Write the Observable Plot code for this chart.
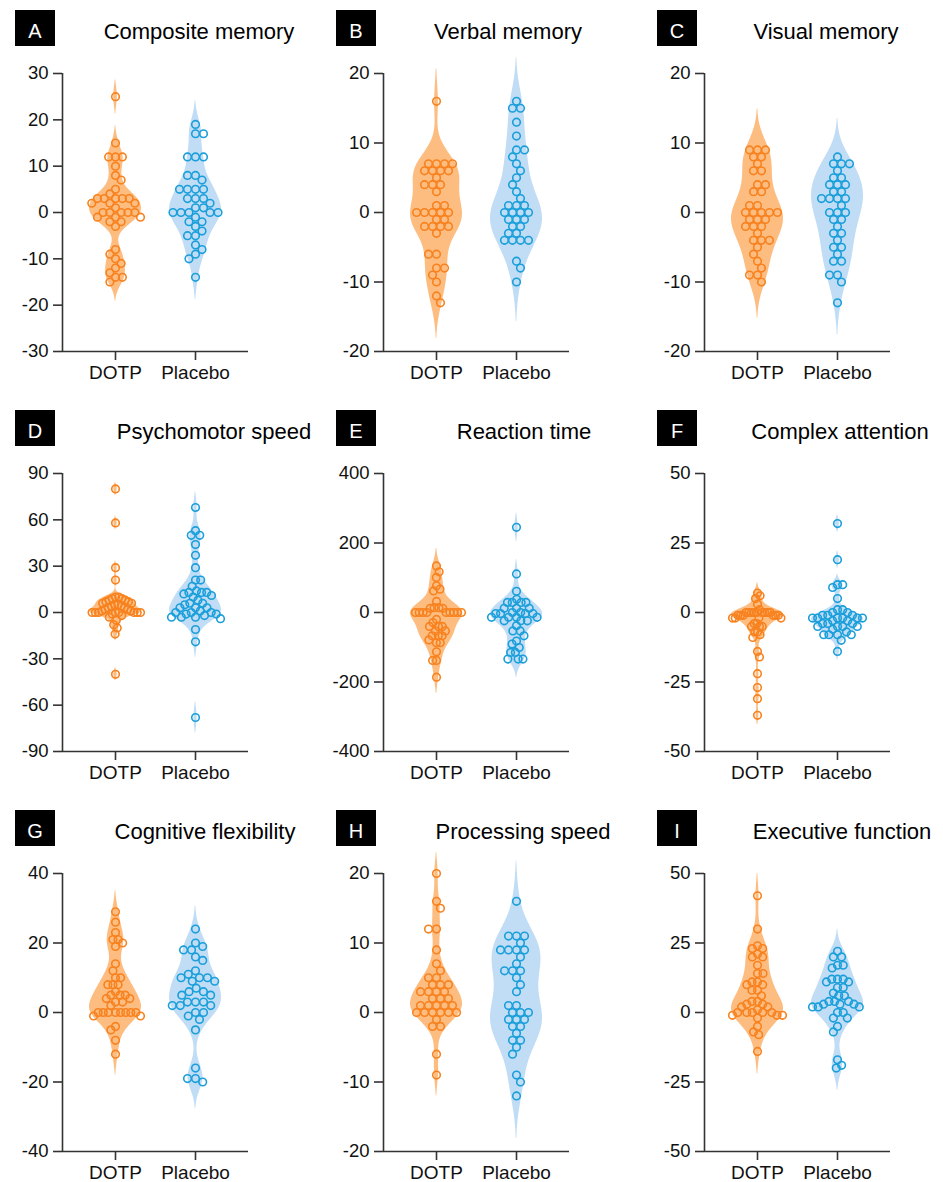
<!DOCTYPE html>
<html><head><meta charset="utf-8">
<script src="https://cdn.jsdelivr.net/npm/d3@7"></script>
<script src="https://cdn.jsdelivr.net/npm/@observablehq/plot@0.6"></script>
<style>
body{margin:0;background:#fff;font-family:"Liberation Sans",Arial,sans-serif;}
#root{position:relative;width:943px;height:1182px;overflow:hidden;background:#fff;}
.panel{position:absolute;width:320px;height:400px;}
.badge{position:absolute;left:15px;top:10px;width:40px;height:36px;background:#000;color:#fff;font-size:20px;line-height:42px;text-align:center;overflow:hidden;}
.title{position:absolute;top:19px;font-size:22px;line-height:26px;white-space:nowrap;transform:translateX(-50%);color:#000;}
.panel svg{position:absolute;left:0;top:0;overflow:visible;}
</style></head><body><div id="root"></div>
<script>
// ---- data ----
const groupNames = ["DOTP", "Placebo"];
const panelLetters = ["A","B","C","D","E","F","G","H","I"];
const panelTitles = ["Composite memory","Verbal memory","Visual memory","Psychomotor speed","Reaction time","Complex attention","Cognitive flexibility","Processing speed","Executive function"];

const ticksA = [-30,-20,-10,0,10,20,30];
const ticksB = [-20,-10,0,10,20];
const ticksC = [-20,-10,0,10,20];
const ticksD = [-90,-60,-30,0,30,60,90];
const ticksE = [-400,-200,0,200,400];
const ticksF = [-50,-25,0,25,50];
const ticksG = [-40,-20,0,20,40];
const ticksH = [-20,-10,0,10,20];
const ticksI = [-50,-25,0,25,50];

const compositeDOTP = [25,15,12,12,12,10,8,7,5,4,3,3,3,3,3,2,2,2,1,0,0,0,0,0,-1,-1,-1,-2,-2,-3,-8,-9,-10,-11,-12,-13,-14,-14,-15];
const compositePlacebo = [19,17,17,12,12,12,8,8,7,5,5,5,5,3,3,3,2,1,1,0,0,0,0,0,-1,-2,-2,-3,-4,-5,-5,-7,-8,-9,-10,-14];
const verbalDOTP = [16,7,7,7,7,6,6,6,6,5,4,4,4,3,1,1,0,0,0,0,0,-1,-1,-2,-2,-2,-2,-3,-6,-6,-8,-8,-9,-10,-12,-13];
const verbalPlacebo = [16,15,15,13,11,9,9,8,7,6,5,4,3,2,1,1,1,0,0,0,0,-1,-1,-1,-2,-2,-3,-3,-4,-4,-4,-4,-7,-8,-10];
const visualDOTP = [9,9,9,8,8,7,6,6,4,4,3,3,1,1,0,0,0,0,0,-1,-1,-1,-2,-2,-2,-3,-4,-4,-4,-5,-6,-7,-8,-9,-9,-10];
const visualPlacebo = [8,7,7,7,6,5,5,4,4,4,3,3,2,2,2,2,1,0,0,0,-1,-1,-2,-3,-3,-4,-5,-5,-6,-7,-7,-9,-9,-10,-13];
const psychomotorDOTP = [80,58,29,21,10,10,9,9,8,8,7,7,6,6,5,5,4,4,3,3,2,2,1,1,0,0,0,0,0,0,0,0,-1,-2,-3,-5,-8,-10,-14,-40];
const psychomotorPlacebo = [68,53,50,50,44,37,29,21,21,17,14,13,13,13,12,11,10,8,6,6,5,3,3,3,1,0,0,0,-1,-1,-2,-3,-3,-3,-4,-11,-19,-68];
const reactionDOTP = [134,117,101,77,67,62,32,14,14,12,12,0,0,0,0,0,0,0,0,0,-20,-29,-40,-40,-40,-53,-53,-67,-67,-67,-79,-87,-87,-113,-138,-138,-186];
const reactionPlacebo = [245,111,61,38,29,29,29,29,12,12,12,0,0,-3,-3,-3,-3,-14,-14,-14,-14,-24,-24,-24,-38,-53,-53,-67,-82,-91,-101,-115,-115,-134,-134,-134];
const attentionDOTP = [7,6,5,3,1,0,0,0,0,0,0,0,0,0,-1,-1,-1,-1,-1,-1,-2,-2,-2,-2,-4,-4,-5,-5,-5,-7,-7,-8,-9,-14,-16,-22,-27,-31,-37];
const attentionPlacebo = [32,19,10,10,9,5,1,1,0,0,-1,-1,-1,-2,-2,-2,-2,-2,-2,-3,-3,-4,-4,-4,-5,-5,-5,-5,-6,-7,-8,-8,-8,-8,-10,-14];
const flexibilityDOTP = [29,26,23,21,21,20,19,14,12,10,10,8,8,8,6,5,5,5,4,4,3,3,2,0,0,0,0,0,0,0,0,-1,-1,-4,-5,-8,-12];
const flexibilityPlacebo = [24,20,19,18,18,16,15,12,11,10,10,10,9,9,7,6,6,5,5,3,3,3,2,2,2,0,0,-1,-2,-5,-16,-19,-19,-20];
const processingDOTP = [20,16,15,12,12,9,7,6,5,5,4,4,4,3,3,3,3,2,2,2,1,1,1,1,1,0,0,0,0,0,0,-1,-2,-2,-6,-9];
const processingPlacebo = [16,11,11,11,10,9,9,9,9,8,7,6,6,6,5,4,3,1,1,0,0,0,-1,-1,-1,-2,-2,-3,-4,-4,-5,-6,-9,-10,-12];
const executiveDOTP = [42,30,24,23,23,21,20,20,17,14,14,11,11,10,10,8,8,6,4,4,3,3,2,2,1,0,0,0,0,0,-1,-1,-1,-2,-5,-7,-8,-14];
const executivePlacebo = [22,20,20,17,17,16,12,12,12,11,11,9,9,7,6,6,4,4,4,3,3,3,2,2,2,0,0,-2,-2,-5,-7,-17,-19,-20];

// ---- layout / style ----
const dotpSeries = [compositeDOTP, verbalDOTP, visualDOTP, psychomotorDOTP, reactionDOTP, attentionDOTP, flexibilityDOTP, processingDOTP, executiveDOTP];
const placeboSeries = [compositePlacebo, verbalPlacebo, visualPlacebo, psychomotorPlacebo, reactionPlacebo, attentionPlacebo, flexibilityPlacebo, processingPlacebo, executivePlacebo];
const panelTicks = [ticksA, ticksB, ticksC, ticksD, ticksE, ticksF, ticksG, ticksH, ticksI];
const titleCenters = [199, 187, 184, 214, 203, 198, 205, 202, 200];

const strokeColors = ["#F7821F", "#1A9FDA"];
const violinColors = ["#FDBD80", "#C0DDF5"];
const W = 300, H = 396, mL = 62, mR = 52, mT = 73, mB = 45;
const xDomain = [-0.6625, 1.6625];
const pxPerX = (W - mL - mR) / (xDomain[1] - xDomain[0]);
const DIAM = 8;            // px between dot centres
const MAX_SPREAD = 25;     // px max half-spread of a swarm
const HALF_VIOLIN = 26;    // px max half-width of a violin

function swarm(values, yScale) {
  const order = d3.range(values.length).sort((a, b) => d3.descending(values[a], values[b]));
  const placed = [], out = new Array(values.length);
  let toggle = 1;
  for (const i of order) {
    const y = yScale(values[i]);
    const cands = [0];
    for (const p of placed) {
      const dy = Math.abs(p.y - y);
      if (dy < DIAM) { const dx = Math.sqrt(DIAM * DIAM - dy * dy); cands.push(p.x + dx, p.x - dx); }
    }
    const t = toggle;
    cands.sort((a, b) => (Math.abs(a) - Math.abs(b)) || (t * (b - a)));
    let xx = 0;
    for (const c of cands) {
      if (placed.every(p => (p.x - c) ** 2 + (p.y - y) ** 2 >= DIAM * DIAM - 1e-6)) { xx = c; break; }
    }
    if (xx !== 0) toggle = -Math.sign(xx);
    placed.push({x: xx, y});
    out[i] = xx;
  }
  const m = d3.max(out, Math.abs);
  const k = m > MAX_SPREAD ? MAX_SPREAD / m : 1;
  return out.map(o => o * k);
}

function violin(values, gi) {
  const s = values.slice().sort(d3.ascending);
  const n = s.length;
  const sd = d3.deviation(s);
  const iqr = d3.quantileSorted(s, 0.75) - d3.quantileSorted(s, 0.25);
  const h = 0.9 * Math.min(sd, iqr > 0 ? iqr / 1.34 : sd) * Math.pow(n, -0.2);
  const lo = s[0] - 3 * h, hi = s[n - 1] + 3 * h, steps = 400;
  const pts = d3.range(steps + 1).map(k => {
    const y = lo + (hi - lo) * k / steps;
    return {y, d: d3.sum(s, v => Math.exp(-0.5 * ((y - v) / h) ** 2))};
  });
  const dmax = d3.max(pts, p => p.d);
  const thr = dmax * 0.012;
  const first = pts.findIndex(p => p.d >= thr);
  const last = pts.length - 1 - pts.slice().reverse().findIndex(p => p.d >= thr);
  const half = HALF_VIOLIN / pxPerX;
  return pts.slice(first, last + 1).map(p => {
    const w = p.d >= thr ? p.d / dmax * half : 0;
    return {y: p.y, x1: gi - w, x2: gi + w};
  });
}

const root = document.getElementById("root");
for (let k = 0; k < 9; k++) {
  const col = k % 3, row = Math.floor(k / 3);
  const panel = document.createElement("div");
  panel.className = "panel";
  panel.style.left = (col * 321) + "px";
  panel.style.top = (row * 400) + "px";

  const ticks = panelTicks[k];
  const yDomain = [ticks[0], ticks[ticks.length - 1]];
  const yScale = d3.scaleLinear().domain(yDomain).range([H - mB, mT]);
  const series = [dotpSeries[k], placeboSeries[k]];
  const marks = [];
  series.forEach((vals, gi) => {
    marks.push(Plot.areaX(violin(vals, gi), {y: "y", x1: "x1", x2: "x2", fill: violinColors[gi], curve: "linear"}));
  });
  series.forEach((vals, gi) => {
    const offs = swarm(vals, yScale);
    const dots = vals.map((v, i) => ({x: gi + offs[i] / pxPerX, y: v}));
    marks.push(Plot.dot(dots, {x: "x", y: "y", r: 3.8, stroke: strokeColors[gi], strokeWidth: 1.6, fill: "none"}));
  });
  marks.push(Plot.ruleX([xDomain[0]], {stroke: "#333", strokeWidth: 1.6}));
  marks.push(Plot.ruleY([yDomain[0]], {stroke: "#333", strokeWidth: 1.6}));
  marks.push(Plot.axisY({ticks, tickSize: 9, tickPadding: 5, tickFormat: d => String(d), label: null, stroke: "#333", strokeWidth: 1.6}));
  marks.push(Plot.axisX({ticks: [0, 1], tickSize: 9, tickPadding: 5, tickFormat: i => groupNames[i], label: null, stroke: "#333", strokeWidth: 1.6, fontSize: 19}));

  const svg = Plot.plot({
    width: W, height: H, marginLeft: mL, marginRight: mR, marginTop: mT, marginBottom: mB,
    x: {domain: xDomain, label: null},
    y: {domain: yDomain, label: null},
    style: {fontFamily: "'Liberation Sans', Arial, sans-serif", fontSize: "18.5px", color: "#111", background: "transparent", overflow: "visible"},
    marks
  });
  panel.appendChild(svg);

  const badge = document.createElement("div");
  badge.className = "badge";
  badge.textContent = panelLetters[k];
  panel.appendChild(badge);

  const title = document.createElement("div");
  title.className = "title";
  title.style.left = titleCenters[k] + "px";
  title.textContent = panelTitles[k];
  panel.appendChild(title);

  root.appendChild(panel);
}
</script></body></html>
